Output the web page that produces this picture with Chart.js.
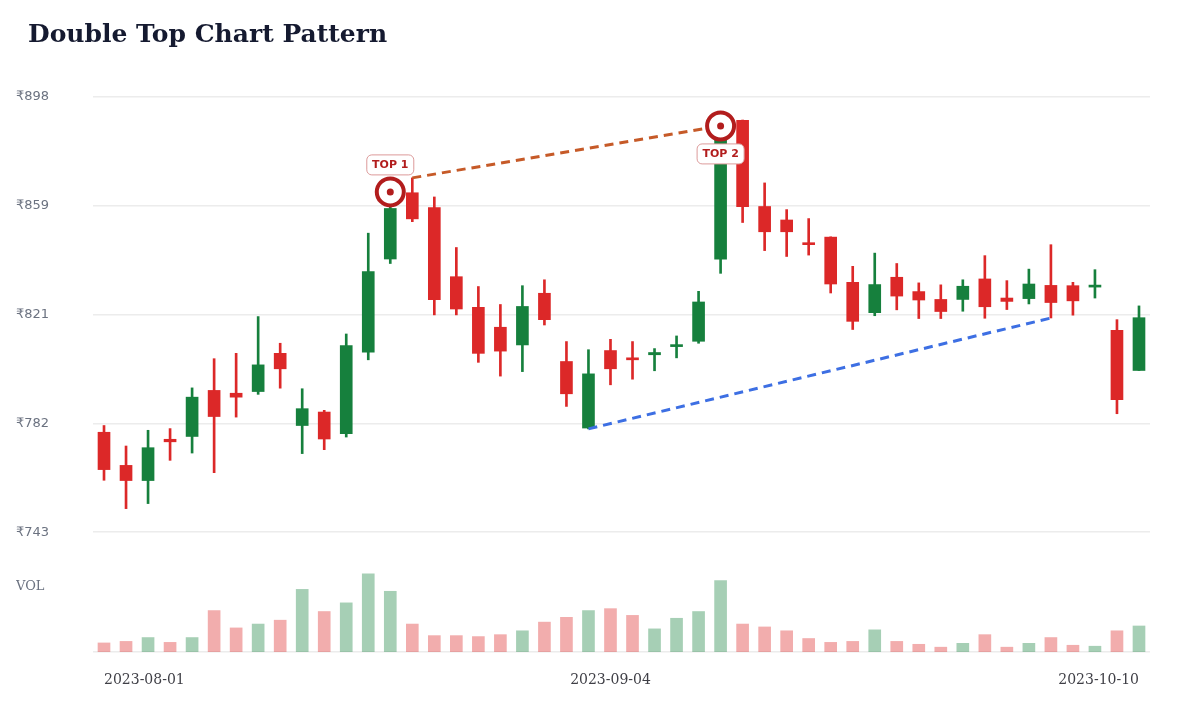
<!DOCTYPE html>
<html>
<head>
<meta charset="utf-8">
<script src="https://cdn.jsdelivr.net/npm/chart.js@4/dist/chart.umd.min.js"></script>
<style>
  html, body { margin: 0; padding: 0; background: #fff; }
  #wrap { position: relative; width: 1200px; height: 720px; }
  #title {
    position: absolute; left: 28px; top: 19px; margin: 0;
    font: bold 25px 'DejaVu Serif', serif; color: #151a30;
  }
</style>
</head>
<body>
<div id="wrap">
  <h1 id="title">Double Top Chart Pattern</h1>
  <canvas id="chart" width="1200" height="720"></canvas>
</div>
<script>
// trading days (Aug 15, Sep 19, Oct 2 closed)
const dates = [
  '2023-08-01','2023-08-02','2023-08-03','2023-08-04','2023-08-07','2023-08-08','2023-08-09','2023-08-10',
  '2023-08-11','2023-08-14','2023-08-16','2023-08-17','2023-08-18','2023-08-21','2023-08-22','2023-08-23',
  '2023-08-24','2023-08-25','2023-08-28','2023-08-29','2023-08-30','2023-08-31','2023-09-01','2023-09-04',
  '2023-09-05','2023-09-06','2023-09-07','2023-09-08','2023-09-11','2023-09-12','2023-09-13','2023-09-14',
  '2023-09-15','2023-09-18','2023-09-20','2023-09-21','2023-09-22','2023-09-25','2023-09-26','2023-09-27',
  '2023-09-28','2023-09-29','2023-10-03','2023-10-04','2023-10-05','2023-10-06','2023-10-09','2023-10-10'
];
const opens  = [778.6, 766.8, 761.4, 776.1, 777.1, 793.5, 792.5, 793.1, 806.7, 781.0, 785.8, 778.1,
                807.1, 840.3, 863.9, 858.6, 834.0, 823.1, 816.0, 809.7, 828.1, 803.8, 780.1, 807.7,
                805.0, 806.2, 809.1, 811.0, 840.2, 889.7, 859.0, 854.2, 846.1, 848.1, 832.0, 821.2,
                833.8, 828.7, 825.9, 825.9, 833.2, 826.4, 826.2, 830.9, 830.8, 830.3, 814.9, 800.6];
const highs  = [781.0, 773.7, 779.3, 779.9, 794.4, 804.8, 806.7, 819.8, 810.3, 794.1, 786.4, 813.6,
                849.5, 864.2, 869.2, 862.4, 844.4, 830.5, 824.1, 830.8, 832.9, 810.9, 808.0, 811.7,
                810.9, 808.4, 812.9, 828.8, 887.7, 889.8, 867.4, 857.9, 854.7, 848.2, 837.7, 842.4,
                838.7, 831.8, 831.1, 832.9, 841.5, 832.6, 836.7, 845.4, 832.0, 836.5, 818.7, 823.6];
const lows   = [761.5, 751.4, 753.2, 768.6, 771.2, 764.2, 784.0, 792.1, 794.3, 771.0, 772.4, 776.9,
                804.4, 838.7, 853.6, 820.4, 820.4, 803.5, 798.6, 800.2, 816.8, 787.8, 779.8, 795.5,
                797.5, 800.5, 805.1, 810.3, 835.2, 853.3, 843.3, 841.2, 841.7, 828.2, 815.2, 820.1,
                822.2, 819.1, 819.1, 821.7, 819.2, 822.3, 824.3, 819.3, 820.3, 826.4, 785.2, 800.6];
const closes = [765.3, 761.4, 773.1, 775.2, 791.1, 784.2, 791.1, 802.6, 801.2, 787.0, 776.2, 809.5,
                835.8, 858.3, 854.6, 825.8, 822.5, 806.7, 807.5, 823.4, 818.7, 792.3, 799.4, 801.2,
                804.4, 807.0, 809.8, 825.0, 885.2, 858.9, 850.0, 850.0, 845.4, 831.4, 818.1, 831.2,
                827.1, 825.7, 821.6, 830.6, 823.3, 825.2, 831.4, 824.8, 825.4, 830.7, 790.2, 819.4];
// volume, thousand shares
const volumes = [94, 110, 150, 100, 150, 430, 250, 290, 330, 650, 420, 510,
                 810, 630, 290, 170, 170, 160, 180, 220, 310, 360, 430, 450,
                 380, 240, 350, 420, 740, 290, 260, 220, 140, 100, 110, 230,
                 110, 80, 50, 90, 180, 50, 90, 150, 70, 60, 220, 270];

const priceTicks = [743, 781.75, 820.5, 859.25, 898];
const shownDates = ['2023-08-01', '2023-09-04', '2023-10-10'];
const topIdx = [13, 28];
const topLabels = ['TOP 1', 'TOP 2'];
const resistanceIdx = [14, 28];   // highs joined by the orange line
const supportIdx = [22, 43];      // lows joined by the blue line

const UP = '#16803d', DOWN = '#dc2828';
const UP_VOL = 'rgba(22,128,61,0.38)', DOWN_VOL = 'rgba(220,40,40,0.38)';
const MARK = '#b21d1d';

const isUp = opens.map((o, i) => closes[i] >= o);
const candleColors = isUp.map(u => u ? UP : DOWN);
const volColors = isUp.map(u => u ? UP_VOL : DOWN_VOL);

// price axis runs below 743 so the volume pane fits underneath
const PRICE_MIN = 700.34, PRICE_MAX = 898, VOL_TICK = 723.45;

const topLabelPlugin = {
  id: 'topLabels',
  afterDatasetsDraw(chart) {
    const meta = chart.getDatasetMeta(5);
    const ctx = chart.ctx;
    ctx.save();
    ctx.font = 'bold 11px "DejaVu Sans", sans-serif';
    ctx.textAlign = 'center';
    ctx.textBaseline = 'middle';
    meta.data.forEach((pt, i) => {
      const cy = i === 0 ? pt.y - 27 : pt.y + 28;
      const w = 47, h = 20;
      ctx.beginPath();
      ctx.roundRect(pt.x - w / 2, cy - h / 2, w, h, 5);
      ctx.fillStyle = '#fff';
      ctx.fill();
      ctx.lineWidth = 1;
      ctx.strokeStyle = '#dc9a9a';
      ctx.stroke();
      ctx.fillStyle = MARK;
      ctx.fillText(topLabels[i], pt.x, cy + 0.5);
    });
    ctx.restore();
  }
};

const ctx = document.getElementById('chart').getContext('2d');
new Chart(ctx, {
  data: {
    labels: dates,
    datasets: [
      {
        type: 'bar', label: 'Volume', yAxisID: 'yVol',
        data: volumes, backgroundColor: volColors,
        barThickness: 12, grouped: false, order: 6
      },
      {
        type: 'bar', label: 'Wick', yAxisID: 'y',
        data: lows.map((l, i) => [l, highs[i]]), backgroundColor: candleColors,
        barThickness: 2, grouped: false, order: 5
      },
      {
        type: 'bar', label: 'Body', yAxisID: 'y',
        data: opens.map((o, i) => [o, closes[i]]), backgroundColor: candleColors,
        barThickness: 12, minBarLength: 2, grouped: false, order: 4
      },
      {
        type: 'line', label: 'Resistance', yAxisID: 'y',
        data: resistanceIdx.map(i => ({ x: dates[i], y: highs[i] })),
        borderColor: '#c65a28', borderWidth: 3, borderDash: [9, 6],
        pointRadius: 0, fill: false, order: 3
      },
      {
        type: 'line', label: 'Support', yAxisID: 'y',
        data: supportIdx.map(i => ({ x: dates[i], y: lows[i] })),
        borderColor: '#3d6fe3', borderWidth: 3, borderDash: [9, 6],
        pointRadius: 0, fill: false, order: 3
      },
      {
        type: 'line', label: 'Tops', yAxisID: 'y',
        data: topIdx.map(i => ({ x: dates[i], y: highs[i] })),
        showLine: false, pointRadius: 13.5, pointBorderWidth: 4,
        pointBorderColor: MARK, pointBackgroundColor: '#fff', order: 2
      },
      {
        type: 'line', label: 'Top dots', yAxisID: 'y',
        data: topIdx.map(i => ({ x: dates[i], y: highs[i] })),
        showLine: false, pointRadius: 3.5, pointBorderWidth: 0,
        pointBackgroundColor: MARK, order: 1
      }
    ]
  },
  options: {
    responsive: false,
    animation: false,
    layout: { padding: { left: 16, right: 50, top: 97, bottom: 32 } },
    plugins: {
      legend: { display: false },
      tooltip: { enabled: false }
    },
    scales: {
      x: {
        offset: true,
        grid: { display: false, drawTicks: false },
        border: { display: false },
        afterFit: s => { s.height = 36; },
        ticks: {
          autoSkip: false, maxRotation: 0, align: 'inner', padding: 20,
          color: '#3f3f46', font: { family: "'DejaVu Serif', serif", size: 14 },
          callback: function (v, i) {
            const d = dates[i];
            return shownDates.includes(d) ? d : '';
          }
        }
      },
      y: {
        position: 'left', min: PRICE_MIN, max: PRICE_MAX,
        afterFit: s => { s.width = 77; },
        afterBuildTicks: s => {
          s.ticks = [PRICE_MIN, VOL_TICK].concat(priceTicks).map(v => ({ value: v }));
        },
        border: { display: false },
        grid: {
          drawTicks: false, lineWidth: 1.5,
          color: c => c.tick && c.tick.value === VOL_TICK ? 'rgba(0,0,0,0)' : '#ececec'
        },
        ticks: {
          crossAlign: 'far', padding: 8,
          color: '#6b7280',
          font: c => ({
            family: c.tick && c.tick.value === VOL_TICK ? "'DejaVu Serif', serif" : "'DejaVu Sans', sans-serif",
            size: 13
          }),
          callback: v => {
            if (v === PRICE_MIN) return '';
            if (v === VOL_TICK) return 'VOL';
            return '₹' + Math.round(v);
          }
        }
      },
      yVol: {
        display: false, min: 0, max: 5760
      }
    }
  },
  plugins: [topLabelPlugin]
});
</script>
</body>
</html>
